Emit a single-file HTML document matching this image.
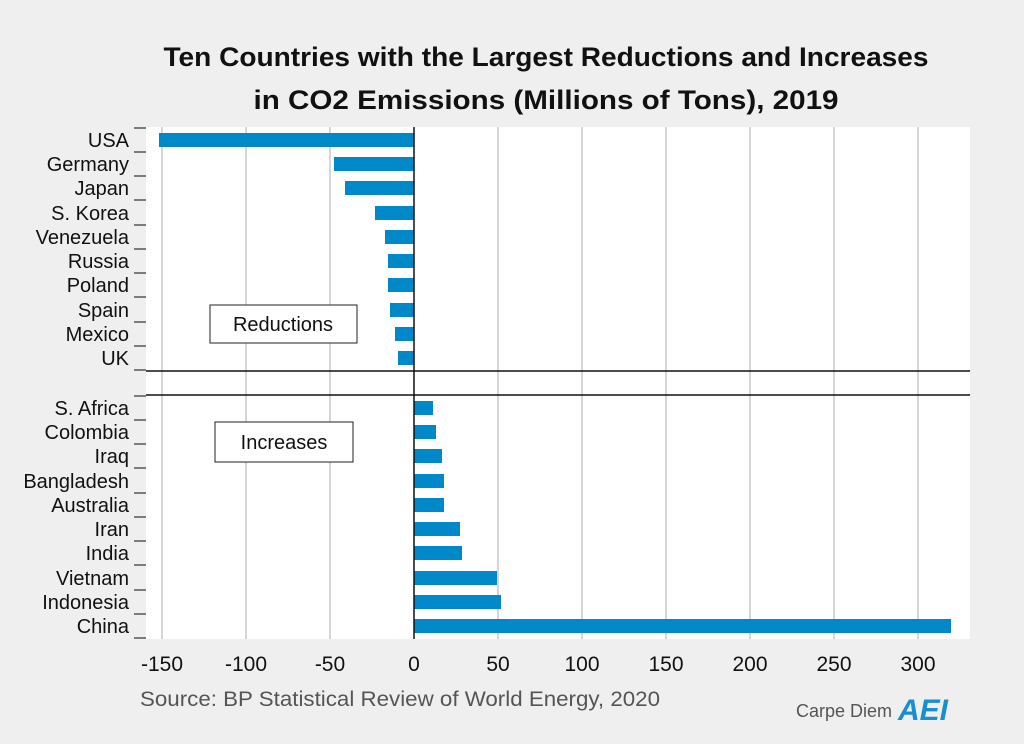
<!DOCTYPE html>
<html><head><meta charset="utf-8"><style>
body{margin:0;background:#efefef;}
svg{display:block;font-family:"Liberation Sans",sans-serif;}
</style></head><body>
<svg width="1024" height="744" viewBox="0 0 1024 744">
<rect width="1024" height="744" fill="#efefef"/>
<text x="546" y="66" text-anchor="middle" font-size="27" font-weight="bold" fill="#111" textLength="765" lengthAdjust="spacingAndGlyphs">Ten Countries with the Largest Reductions and Increases</text>
<text x="546" y="109" text-anchor="middle" font-size="27" font-weight="bold" fill="#111" textLength="585" lengthAdjust="spacingAndGlyphs">in CO2 Emissions (Millions of Tons), 2019</text>
<rect x="146" y="127" width="824" height="512" fill="#fff"/>
<g stroke="#c8c8c8" stroke-width="1.5">
<line x1="162" y1="127" x2="162" y2="639"/><line x1="246" y1="127" x2="246" y2="639"/><line x1="330" y1="127" x2="330" y2="639"/>
<line x1="498" y1="127" x2="498" y2="639"/><line x1="582" y1="127" x2="582" y2="639"/><line x1="666" y1="127" x2="666" y2="639"/>
<line x1="750" y1="127" x2="750" y2="639"/><line x1="834" y1="127" x2="834" y2="639"/><line x1="918" y1="127" x2="918" y2="639"/>
</g>
<g fill="#0088c8">
<rect x="159" y="133" width="255" height="14"/>
<rect x="334" y="157" width="80" height="14"/>
<rect x="345" y="181" width="69" height="14"/>
<rect x="375" y="206" width="39" height="14"/>
<rect x="385" y="230" width="29" height="14"/>
<rect x="388" y="254" width="26" height="14"/>
<rect x="388" y="278" width="26" height="14"/>
<rect x="390" y="303" width="24" height="14"/>
<rect x="395" y="327" width="19" height="14"/>
<rect x="398" y="351" width="16" height="14"/>
<rect x="414" y="401" width="19" height="14"/>
<rect x="414" y="425" width="22" height="14"/>
<rect x="414" y="449" width="28" height="14"/>
<rect x="414" y="474" width="30" height="14"/>
<rect x="414" y="498" width="30" height="14"/>
<rect x="414" y="522" width="46" height="14"/>
<rect x="414" y="546" width="48" height="14"/>
<rect x="414" y="571" width="83" height="14"/>
<rect x="414" y="595" width="87" height="14"/>
<rect x="414" y="619" width="537" height="14"/>
</g>
<line x1="414" y1="127" x2="414" y2="639" stroke="#111" stroke-width="1.5"/>
<line x1="146" y1="371" x2="970" y2="371" stroke="#111" stroke-width="1.5"/>
<line x1="146" y1="395" x2="970" y2="395" stroke="#111" stroke-width="1.5"/>
<g stroke="#555" stroke-width="1.5">
<line x1="134" y1="128" x2="146" y2="128"/><line x1="134" y1="152" x2="146" y2="152"/><line x1="134" y1="176" x2="146" y2="176"/><line x1="134" y1="200" x2="146" y2="200"/><line x1="134" y1="225" x2="146" y2="225"/><line x1="134" y1="249" x2="146" y2="249"/><line x1="134" y1="273" x2="146" y2="273"/><line x1="134" y1="297" x2="146" y2="297"/><line x1="134" y1="322" x2="146" y2="322"/><line x1="134" y1="346" x2="146" y2="346"/><line x1="134" y1="370" x2="146" y2="370"/>
<line x1="134" y1="396" x2="146" y2="396"/><line x1="134" y1="420" x2="146" y2="420"/><line x1="134" y1="444" x2="146" y2="444"/><line x1="134" y1="468" x2="146" y2="468"/><line x1="134" y1="493" x2="146" y2="493"/><line x1="134" y1="517" x2="146" y2="517"/><line x1="134" y1="541" x2="146" y2="541"/><line x1="134" y1="565" x2="146" y2="565"/><line x1="134" y1="590" x2="146" y2="590"/><line x1="134" y1="614" x2="146" y2="614"/><line x1="134" y1="638" x2="146" y2="638"/>
</g>
<g font-size="20" fill="#111" text-anchor="end">
<text x="129" y="147">USA</text><text x="129" y="171">Germany</text><text x="129" y="195">Japan</text><text x="129" y="220">S. Korea</text><text x="129" y="244">Venezuela</text><text x="129" y="268">Russia</text><text x="129" y="292">Poland</text><text x="129" y="317">Spain</text><text x="129" y="341">Mexico</text><text x="129" y="365">UK</text>
<text x="129" y="415">S. Africa</text><text x="129" y="439">Colombia</text><text x="129" y="463">Iraq</text><text x="129" y="488">Bangladesh</text><text x="129" y="512">Australia</text><text x="129" y="536">Iran</text><text x="129" y="560">India</text><text x="129" y="585">Vietnam</text><text x="129" y="609">Indonesia</text><text x="129" y="633">China</text>
</g>
<rect x="210" y="305" width="147" height="38" fill="#fff" stroke="#222" stroke-width="1"/>
<text x="283" y="331" font-size="20" text-anchor="middle" fill="#111">Reductions</text>
<rect x="215" y="422" width="138" height="40" fill="#fff" stroke="#222" stroke-width="1"/>
<text x="284" y="449" font-size="20" text-anchor="middle" fill="#111">Increases</text>
<g font-size="21" fill="#111" text-anchor="middle">
<text x="162" y="671">-150</text><text x="246" y="671">-100</text><text x="330" y="671">-50</text><text x="414" y="671">0</text><text x="498" y="671">50</text><text x="582" y="671">100</text><text x="666" y="671">150</text><text x="750" y="671">200</text><text x="834" y="671">250</text><text x="918" y="671">300</text>
</g>
<text x="140" y="706" font-size="21" fill="#555" textLength="520" lengthAdjust="spacingAndGlyphs">Source: BP Statistical Review of World Energy, 2020</text>
<text x="796" y="717" font-size="18" fill="#555">Carpe Diem</text>
<text x="898" y="720" font-size="30" font-weight="bold" font-style="italic" fill="#1a8fd0">AEI</text>
</svg>
</body></html>
